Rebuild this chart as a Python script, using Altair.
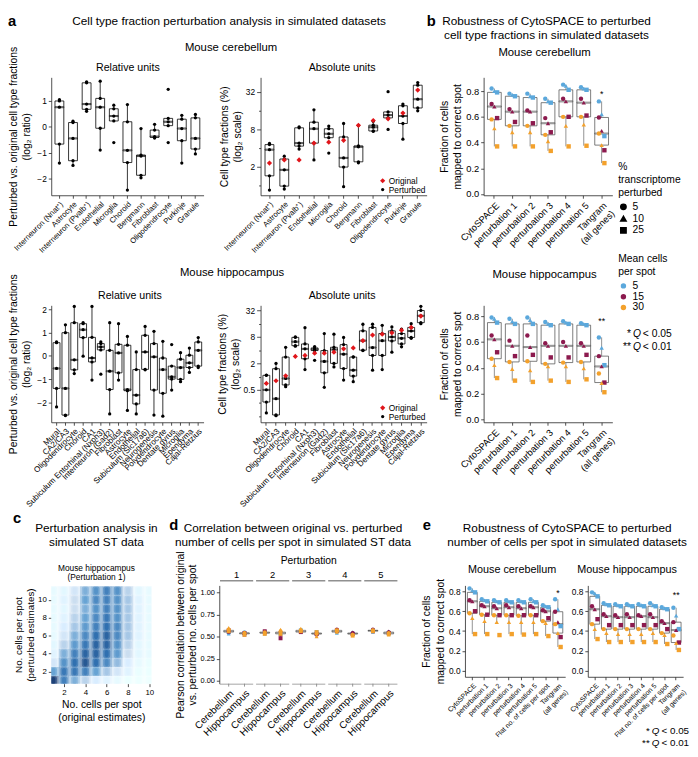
import altair as alt
import pandas as pd

FONT = "Liberation Sans"
BLUE, MAROON, ORANGE, RED = "#5BA8DC", "#8C1A4E", "#F3A12C", "#E0161B"
PCTS = ["5", "10", "25"]
CELLS = ["5", "15", "30"]

# ---------------- panel a : mouse cerebellum ----------------
cb_types = ["Interneuron (Nnat⁺)", "Astrocyte", "Interneuron (Pvalb⁺)", "Endothelial",
            "Microglia", "Choroid", "Bergmann", "Fibroblast", "Oligodendrocyte",
            "Purkinje", "Granule"]
cb_rel = [
    [-1.39, -0.66, 0.76, 1.0, 1.05], [-1.48, -1.3, -0.44, 0.17, 0.22],
    [0.6, 0.68, 0.88, 1.7, 1.74], [-0.89, -0.05, 0.76, 1.1, 1.76],
    [-0.6, 0.23, 0.42, 0.7, 0.84], [-2.43, -1.37, -0.9, 0.2, 0.86],
    [-1.96, -1.86, -1.12, -1.08, -0.06], [-0.43, -0.4, -0.37, -0.12, 0.1],
    [-0.6, 0.05, 0.2, 0.33, 1.45], [-1.39, -0.53, -0.06, 0.3, 0.45],
    [-1.04, -0.85, -0.44, 0.35, 0.48],
]
# log2 of cell type fraction (%)
cb_abs = [
    [-0.26, 0.5, 1.9, 2.17, 2.23], [-0.21, -0.05, 0.82, 1.4, 1.55],
    [1.93, 2.09, 2.25, 3.07, 3.12], [1.35, 2.25, 3.02, 3.37, 4.03],
    [1.72, 2.54, 2.75, 3.02, 3.16], [-0.08, 0.97, 1.46, 2.58, 3.3],
    [1.2, 1.25, 2.05, 2.1, 3.2], [2.88, 2.9, 3.1, 3.21, 3.42],
    [2.98, 3.6, 3.75, 3.92, 5.0], [2.46, 3.3, 3.7, 4.25, 4.34],
    [3.98, 4.13, 4.6, 5.35, 5.49],
]
cb_abs_orig = [1.18, 1.35, 1.35, 2.25, 2.3, 2.4, 3.2, 3.46, 3.55, 3.86, 5.09]

# ---------------- panel a : mouse hippocampus ----------------
hc_types = ["Mural", "CA2/CA3", "Oligodendrocyte", "Choroid", "CA1",
            "Subiculum Entorhinal (Nxph3)", "Interneuron (Gad2)", "Fibroblast",
            "Astrocyte", "Endothelial", "Subiculum (Slc17a6)", "Neurogenesis",
            "Polydendrocyte", "Dentate gyrus", "Microglia", "Ependyma", "Cajal-Retzius"]
hc_rel = [
    [-2.2, -1.4, -0.54, 0.57, 0.6], [-2.57, -2.55, -1.4, 1.0, 1.34],
    [-0.76, -0.6, -0.17, 1.43, 2.13], [-0.01, 0.79, 1.13, 1.39, 1.43],
    [-1.04, -0.26, -0.09, 0.8, 2.13], [-0.79, 0.26, 0.39, 0.53, 0.6],
    [-2.5, -1.45, -0.66, 0.24, 1.43], [-1.04, -0.73, 0.13, 0.5, 1.39],
    [-2.35, -1.5, -1.45, 0.46, 0.84], [-2.5, -2.07, -1.69, -0.59, 0.17],
    [-0.6, -0.58, 0.17, 0.89, 1.27], [-2.55, -1.47, -0.04, 0.53, 1.06],
    [-2.6, -1.61, -0.59, -0.09, 0.63], [-1.47, -1.0, -0.9, -0.44, 0.49],
    [-1.11, -1.01, -0.5, -0.14, 0.14], [-0.71, -0.5, -0.3, 0.03, 0.34],
    [-0.5, -0.44, 0.24, 0.6, 0.79],
]
hc_abs = [
    [-2.74, -1.92, -1.0, 0.1, 0.12], [-2.95, -2.9, -1.67, 0.6, 1.0],
    [-0.76, -0.63, -0.14, 1.48, 2.22], [2.3, 2.34, 2.64, 2.97, 3.0],
    [0.53, 1.35, 2.1, 2.47, 3.7], [1.23, 1.97, 2.07, 2.17, 2.27],
    [-0.81, 0.29, 1.15, 1.97, 3.26], [0.73, 1.0, 2.05, 2.22, 3.21],
    [-0.26, 0.61, 1.7, 2.42, 2.96], [-0.38, 0.04, 0.49, 1.48, 1.5],
    [1.97, 2.0, 2.72, 3.46, 3.96], [0.49, 1.6, 2.2, 3.72, 3.96],
    [0.53, 1.6, 2.72, 3.26, 3.88], [1.85, 2.7, 3.0, 3.46, 3.76],
    [2.25, 2.47, 2.9, 3.26, 3.6], [2.9, 2.96, 3.45, 3.72, 4.0],
    [4.0, 4.08, 4.6, 5.0, 5.32],
]
hc_abs_orig = [-0.51, -0.31, 0.06, 1.53, 1.6, 1.77, 1.77, 1.85, 2.1, 2.17, 2.72,
               3.14, 3.21, 3.31, 3.51, 3.72, 4.58]

# ---------------- panel b ----------------
b_cats = ["CytoSPACE", "perturbation 1", "perturbation 2", "perturbation 3",
          "perturbation 4", "perturbation 5", "Tangram\n(all genes)"]
# each row: [5 %, 10 %, 25 % transcriptome perturbed]
b_cb_blue = [[0.82, 0.80, 0.79], [0.78, 0.77, 0.76], [0.78, 0.76, 0.75], [0.74, 0.72, 0.71],
             [0.85, 0.84, 0.81], [0.83, 0.82, 0.81], [0.72, 0.62, 0.45]]
b_cb_maroon = [[0.70, 0.68, 0.59], [0.66, 0.64, 0.56], [0.65, 0.64, 0.55], [0.59, 0.55, 0.48],
               [0.74, 0.72, 0.60], [0.74, 0.71, 0.61], [0.595, 0.49, 0.34]]
b_cb_orange = [[0.58, 0.51, 0.37], [0.53, 0.48, 0.37], [0.53, 0.48, 0.37], [0.46, 0.41, 0.335],
               [0.60, 0.53, 0.37], [0.60, 0.54, 0.375], [0.47, 0.38, 0.24]]
b_hc_blue = [[0.79, 0.78, 0.75], [0.78, 0.76, 0.74], [0.79, 0.77, 0.74], [0.755, 0.74, 0.73],
             [0.76, 0.75, 0.74], [0.745, 0.74, 0.73], [0.635, 0.555, 0.42]]
b_hc_maroon = [[0.65, 0.62, 0.52], [0.61, 0.57, 0.49], [0.65, 0.56, 0.50], [0.59, 0.57, 0.48],
               [0.60, 0.57, 0.48], [0.59, 0.57, 0.50], [0.49, 0.41, 0.285]]
b_hc_orange = [[0.47, 0.42, 0.32], [0.445, 0.39, 0.30], [0.45, 0.38, 0.29], [0.43, 0.41, 0.30],
               [0.44, 0.41, 0.29], [0.445, 0.395, 0.31], [0.355, 0.28, 0.21]]

# ---------------- panel c (density of cells per spot) ----------------
c_orig = [1, 2, 3, 4, 5, 6, 7, 8, 9, 10]
c_pert = [1, 2, 3, 4, 5, 6, 7, 8, 9, 10, 11]
c_density = [
    [1.00, 0.50, 0.20, 0.10, 0.08, 0.05, 0.05, 0.05, 0.05, 0.05, 0.05],
    [0.70, 0.75, 0.60, 0.45, 0.30, 0.20, 0.15, 0.10, 0.08, 0.10, 0.08],
    [0.45, 0.75, 0.80, 0.70, 0.55, 0.45, 0.35, 0.30, 0.25, 0.25, 0.20],
    [0.30, 0.70, 0.90, 0.85, 0.75, 0.65, 0.55, 0.50, 0.45, 0.50, 0.45],
    [0.15, 0.50, 0.80, 0.85, 0.85, 0.80, 0.70, 0.65, 0.60, 0.65, 0.60],
    [0.10, 0.35, 0.65, 0.80, 0.85, 0.85, 0.80, 0.75, 0.70, 0.70, 0.70],
    [0.05, 0.20, 0.40, 0.55, 0.60, 0.65, 0.65, 0.60, 0.60, 0.60, 0.60],
    [0.02, 0.10, 0.15, 0.25, 0.30, 0.35, 0.35, 0.35, 0.35, 0.35, 0.30],
    [0.01, 0.03, 0.05, 0.08, 0.08, 0.10, 0.10, 0.10, 0.10, 0.10, 0.08],
    [0.00, 0.02, 0.03, 0.05, 0.05, 0.05, 0.05, 0.05, 0.05, 0.05, 0.05],
]

# ---------------- panel d (Pearson r) ----------------
d_perts = ["1", "2", "3", "4", "5"]
d_tissues = ["Cerebellum", "Hippocampus"]
# per perturbation: blue(5,10,25), maroon(5,10,25), orange(5,10,25)
d_cereb = [[0.54, 0.53, 0.55, 0.56, 0.55, 0.57, 0.58, 0.60, 0.56],
           [0.54, 0.53, 0.55, 0.54, 0.55, 0.56, 0.55, 0.54, 0.53],
           [0.56, 0.55, 0.57, 0.55, 0.57, 0.55, 0.57, 0.59, 0.56],
           [0.55, 0.54, 0.56, 0.58, 0.56, 0.57, 0.56, 0.55, 0.57],
           [0.56, 0.55, 0.57, 0.58, 0.57, 0.56, 0.57, 0.58, 0.56]]
d_hippo = [[0.55, 0.54, 0.53, 0.53, 0.52, 0.54, 0.54, 0.55, 0.52],
           [0.54, 0.55, 0.53, 0.55, 0.52, 0.48, 0.56, 0.58, 0.53],
           [0.54, 0.53, 0.55, 0.52, 0.54, 0.53, 0.53, 0.50, 0.55],
           [0.54, 0.55, 0.53, 0.54, 0.55, 0.53, 0.52, 0.53, 0.51],
           [0.55, 0.53, 0.54, 0.55, 0.56, 0.54, 0.54, 0.52, 0.53]]

# ---------------- panel e ----------------
e_cats = ["CytoSPACE", "perturbation 1", "perturbation 2", "perturbation 3",
          "perturbation 4", "perturbation 5", "Flat no. of cells per spot",
          "Tangram\n(all genes)"]
e_cb_blue = [[0.83, 0.81, 0.79], [0.72, 0.71, 0.70], [0.71, 0.70, 0.69], [0.71, 0.70, 0.69],
             [0.71, 0.70, 0.69], [0.72, 0.70, 0.69], [0.66, 0.65, 0.64], [0.72, 0.62, 0.45]]
e_cb_maroon = [[0.71, 0.70, 0.60], [0.66, 0.65, 0.565], [0.65, 0.63, 0.56], [0.66, 0.64, 0.56],
               [0.65, 0.63, 0.56], [0.65, 0.64, 0.56], [0.61, 0.60, 0.53], [0.595, 0.49, 0.34]]
e_cb_orange = [[0.58, 0.53, 0.37], [0.565, 0.50, 0.37], [0.56, 0.49, 0.36], [0.56, 0.49, 0.37],
               [0.555, 0.49, 0.365], [0.56, 0.49, 0.37], [0.50, 0.48, 0.35], [0.47, 0.38, 0.24]]
e_hc_blue = [[0.79, 0.78, 0.75], [0.68, 0.67, 0.66], [0.67, 0.66, 0.65], [0.67, 0.66, 0.65],
             [0.67, 0.66, 0.65], [0.68, 0.66, 0.65], [0.64, 0.63, 0.62], [0.635, 0.555, 0.42]]
e_hc_maroon = [[0.65, 0.62, 0.52], [0.57, 0.55, 0.46], [0.56, 0.54, 0.46], [0.57, 0.54, 0.46],
               [0.56, 0.55, 0.46], [0.57, 0.54, 0.46], [0.50, 0.48, 0.42], [0.49, 0.41, 0.285]]
e_hc_orange = [[0.47, 0.42, 0.32], [0.42, 0.38, 0.29], [0.42, 0.37, 0.29], [0.42, 0.37, 0.29],
               [0.42, 0.37, 0.29], [0.42, 0.38, 0.29], [0.38, 0.36, 0.27], [0.355, 0.28, 0.21]]


# ================= helpers =================
def txt(s, x, y, size=10, weight="normal", align="center", baseline="middle", style="normal"):
    return alt.Chart(pd.DataFrame({"t": [s]})).mark_text(
        font=FONT, fontSize=size, fontWeight=weight, align=align, baseline=baseline,
        fontStyle=style, color="black").encode(text="t:N", x=alt.value(x), y=alt.value(y))


def qnote(x, y, stars, val, size=10.5):
    return [txt(stars, x - 6, y, size, align="right"),
            txt("Q", x, y, size, style="italic"),
            txt("< " + val, x + 6, y, size, align="left")]


def cat_axis(size):
    return alt.Axis(labelAngle=315, labelAlign="right", labelBaseline="top", labelFontSize=size,
                    labelPadding=2, labelLimit=300, tickSize=3, title=None,
                    labelExpr="split(datum.label, '\\n')")


BOX = dict(extent=1.5, outliers=False, ticks=False,
           box={"fill": "white", "stroke": "black", "strokeWidth": 0.8},
           median={"stroke": "black", "strokeWidth": 1},
           rule={"stroke": "black", "strokeWidth": 0.8})


def rel_panel(types, vals, w, h, ydom, yvals, lab, bsize, notes):
    df = pd.DataFrame({"type": [t for t, vs in zip(types, vals) for _ in vs],
                       "v": [v for vs in vals for v in vs]})
    x = alt.X("type:N", sort=types, scale=alt.Scale(paddingInner=0, paddingOuter=0.1),
              axis=cat_axis(lab))
    y = alt.Y("v:Q", scale=alt.Scale(domain=ydom, nice=False, zero=False),
              axis=alt.Axis(values=yvals, title=["Perturbed vs. original cell type fractions",
                                                  "(log₂ ratio)"], titleFontSize=10.5,
                            titleLineHeight=14, titlePadding=5, labelFontSize=8.5))
    box = alt.Chart(df).mark_boxplot(size=bsize, **BOX).encode(x=x, y=y)
    pts = alt.Chart(df).mark_circle(size=11, color="black", opacity=1).encode(x=x, y=y)
    return alt.layer(box, pts, *notes).properties(width=w, height=h)


def abs_panel(types, vals, orig, w, h, ydom, yvals, major, lab, bsize, notes):
    dfp = pd.DataFrame({"type": [t for t, vs in zip(types, vals) for _ in vs],
                        "v": [v for vs in vals for v in vs], "kind": "Perturbed"})
    dfo = pd.DataFrame({"type": types, "v": orig, "kind": "Original"})
    dfa = pd.concat([dfp, dfo], ignore_index=True)
    x = alt.X("type:N", sort=types, scale=alt.Scale(paddingInner=0, paddingOuter=0.1),
              axis=cat_axis(lab))
    is_major = "indexof(" + str(major) + ", datum.value) >= 0"
    y = alt.Y("v:Q", scale=alt.Scale(domain=ydom, nice=False, zero=False),
              axis=alt.Axis(values=yvals,
                            labelExpr=is_major + " ? toString(pow(2, datum.value)) : ''",
                            tickSize={"condition": {"test": is_major, "value": 4}, "value": 2},
                            title=["Cell type fractions (%)", "(log₂ scale)"], titleFontSize=10.5,
                            titleLineHeight=13, titlePadding=3, labelFontSize=8.5))
    kinds = ["Original", "Perturbed"]
    leg = alt.Legend(title=None, orient="bottom-right", offset=1, padding=0, labelFontSize=8.5,
                     symbolSize=24, rowPadding=0, labelOffset=2)
    box = alt.Chart(dfp).mark_boxplot(size=bsize, **BOX).encode(x=x, y=y)
    pts = alt.Chart(dfa).mark_point(filled=True, opacity=1).encode(
        x=x, y=y,
        color=alt.Color("kind:N", scale=alt.Scale(domain=kinds, range=[RED, "black"]), legend=leg),
        shape=alt.Shape("kind:N", scale=alt.Scale(domain=kinds, range=["diamond", "circle"]), legend=leg),
        size=alt.Size("kind:N", scale=alt.Scale(domain=kinds, range=[28, 11]), legend=None))
    return alt.layer(box, pts, *notes).properties(width=w, height=h)


def frac_panel(cats, blue, maroon, orange, w, h, ydom, lab, ylab, bsize, star, star_y, notes,
               legend=False, ytitle=True):
    rows = []
    for i, cat in enumerate(cats):
        for cells, arr in zip(CELLS, (blue, maroon, orange)):
            for pct, v in zip(PCTS, arr[i]):
                rows.append({"cat": cat, "cells": cells, "pct": pct, "v": v})
    df = pd.DataFrame(rows)
    half_band = w / (len(cats) + 0.2) / 2
    x = alt.X("cat:N", sort=cats, scale=alt.Scale(paddingInner=0, paddingOuter=0.1),
              axis=cat_axis(lab))
    y = alt.Y("v:Q", scale=alt.Scale(domain=ydom, nice=False, zero=False),
              axis=alt.Axis(values=[0, 0.2, 0.4, 0.6, 0.8], format=".1f", labelFontSize=ylab,
                            title=["Fraction of cells", "mapped to correct spot"] if ytitle else None,
                            titleFontSize=10.5, titleLineHeight=14, titlePadding=3))
    box = alt.Chart(df).mark_boxplot(size=bsize, extent=1.5, outliers=False, ticks=False,
                                     box={"fill": "white", "stroke": "#444", "strokeWidth": 0.7},
                                     median={"stroke": "#444", "strokeWidth": 0.9},
                                     rule={"stroke": "#777", "strokeWidth": 0.8}).encode(x=x, y=y)
    if legend:
        cleg = alt.Legend(title=["Mean cells", "per spot"], orient="none", legendX=137, legendY=180,
                          titleFontSize=10.5, labelFontSize=10.5, symbolSize=30, rowPadding=0,
                          titlePadding=3, titleLineHeight=13.5)
        sleg = alt.Legend(title=["%", "transcriptome", "perturbed"], orient="none", legendX=137,
                          legendY=86, titleFontSize=10.5, labelFontSize=10.5, symbolSize=30,
                          rowPadding=0, titlePadding=3, titleLineHeight=13.5,
                          symbolFillColor="black", symbolStrokeColor="black")
    else:
        cleg = None
        sleg = None
    pts = alt.Chart(df).mark_point(filled=True, size=20, opacity=1).encode(
        x=x, y=y,
        xOffset=alt.XOffset("pct:N", sort=PCTS,
                            scale=alt.Scale(type="point", padding=0,
                                            range=[half_band - 2.8, half_band + 2.8])),
        color=alt.Color("cells:N", sort=CELLS, scale=alt.Scale(domain=CELLS, range=[BLUE, MAROON, ORANGE]), legend=cleg),
        shape=alt.Shape("pct:N", sort=PCTS, scale=alt.Scale(domain=PCTS, range=["circle", "triangle-up", "square"]), legend=sleg))
    st = alt.Chart(pd.DataFrame({"cat": [cats[-1]], "v": [star_y], "t": [star]})).mark_text(
        font=FONT, fontSize=9).encode(x=x, y=y, text="t:N")
    return alt.layer(box, pts, st, *notes).properties(width=w, height=h)


def spacer(w):
    return alt.Chart(pd.DataFrame({"a": [0]})).mark_point(opacity=0).encode(
        x=alt.value(0), y=alt.value(0)).properties(width=w, height=10)


# ================= panel a / b charts =================
relC = rel_panel(cb_types, cb_rel, 155, 120, [-2.63, 1.91], [-2, -1, 0, 1], 7.8, 9, [
    txt("a", -44, -64, 15, "bold", align="left", baseline="top"),
    txt("Cell type fraction perturbation analysis in simulated datasets", 181, -57, 12),
    txt("Mouse cerebellum", 183, -30, 11.5),
    txt("Relative units", 78, -9, 10.8)])
absC = abs_panel(cb_types, cb_abs, cb_abs_orig, 169, 120, [-0.54, 5.77], [0, 1, 2, 3, 4, 5],
                 [1, 3, 5], 7.8, 9, [txt("Absolute units", 83, -9, 10.8)])
bC = frac_panel(b_cats, b_cb_blue, b_cb_maroon, b_cb_orange, 131, 120, [-0.01, 0.907], 9.5, 9.5, 14,
                "*", 0.78, [
                    txt("b", -58, -64, 15, "bold", align="left", baseline="top"),
                    txt("Robustness of CytoSPACE to perturbed", 64, -57, 12),
                    txt("cell type fractions in simulated datasets", 64, -43, 12),
                    txt("Mouse cerebellum", 62, -25, 11.5)], legend=True)
relH = rel_panel(hc_types, hc_rel, 155, 119, [-2.86, 2.18], [-2, -1, 0, 1, 2], 8.2, 7, [
    txt("Mouse hippocampus", 184, -33, 11.5),
    txt("Relative units", 80, -9, 10.8)])
absH = abs_panel(hc_types, hc_abs, hc_abs_orig, 169, 119, [-3.45, 5.39],
                 [-3, -2, -1, 0, 1, 2, 3, 4, 5], [-1, 1, 3, 5], 8.2, 7, [
                     txt("Absolute units", 83, -9, 10.8)])
bH = frac_panel(b_cats, b_hc_blue, b_hc_maroon, b_hc_orange, 131, 119, [-0.023, 0.884], 9.5, 9.5, 14,
                "**", 0.76, [txt("Mouse hippocampus", 62, -31, 11.5)]
                + qnote(156, 29, "*", "0.05") + qnote(156, 42, "**", "0.01"))

row12 = alt.concat(relC, absC, bC, relH, absH, bH, columns=3, bounds="flush", align="each",
                   spacing={"row": 112, "column": 58})

# ================= panel c =================
crow = []
for i, xv in enumerate(c_orig):
    for j, yv in enumerate(c_pert):
        crow.append({"orig": xv, "pert": yv, "dens": c_density[i][j]})
cdf = pd.DataFrame(crow)
cscale = alt.Scale(domain=[0, 0.25, 0.5, 0.8, 1.0],
                   range=["#ffffff", "#c6dbef", "#5a9bd0", "#1c62a8", "#08306b"])
cx = alt.X("x1:Q", scale=alt.Scale(domain=[0.8, 10.2], nice=False, zero=False),
           axis=alt.Axis(values=[2, 4, 6, 8, 10], title=["No. cells per spot", "(original estimates)"],
                         titleFontSize=10.5, titleLineHeight=13, domain=False, labelFontSize=8))
cy = alt.Y("y1:Q", scale=alt.Scale(domain=[0.65, 11.6], nice=False, zero=False),
           axis=alt.Axis(values=[2, 4, 6, 8, 10], title=["No. cells per spot", "(perturbed estimates)"],
                         titleFontSize=10, titleLineHeight=12, titlePadding=2, domain=False,
                         labelFontSize=8))
cbase = alt.Chart(cdf)


def c_layer(hw, hh, op, rad):
    return cbase.transform_calculate(
        x1=f"datum.orig - {hw}", x2=f"datum.orig + {hw}",
        y1=f"datum.pert - {hh}", y2=f"datum.pert + {hh}"
    ).mark_rect(clip=True, opacity=op, cornerRadius=rad).encode(
        x=cx, x2="x2:Q", y=cy, y2="y2:Q", color=alt.Color("dens:Q", scale=cscale, legend=None))


cchart = alt.layer(c_layer(0.5, 0.5, 0.5, 0), c_layer(0.33, 0.48, 0.55, 2),
                   c_layer(0.18, 0.4, 0.6, 2),
                   txt("c", -39, -75, 15, "bold", align="left", baseline="top"),
                   txt("Perturbation analysis in", 46, -58, 12),
                   txt("simulated ST data", 46, -44, 12),
                   txt("Mouse hippocampus", 46, -18, 8.5),
                   txt("(Perturbation 1)", 46, -8, 8.5)).properties(width=102, height=100)

# ================= panel d =================
drows = []
for k, p in enumerate(d_perts):
    for tissue, mat in zip(d_tissues, (d_cereb, d_hippo)):
        for ci, cells in enumerate(CELLS):
            for pi, pct in enumerate(PCTS):
                drows.append({"pert": p, "tissue": tissue, "cells": cells, "pct": pct,
                              "r": mat[k][ci * 3 + pi]})
ddf = pd.DataFrame(drows)
DH = 100
dx = alt.X("pert:N", sort=d_perts, axis=None, scale=alt.Scale(paddingInner=0.08, paddingOuter=0.02))
dxo = alt.XOffset("tissue:N", sort=d_tissues, scale=alt.Scale(paddingOuter=0.05))
dys = alt.Scale(domain=[-0.033, 1.078], nice=False, zero=False)
dax = alt.Axis(values=[0, 0.25, 0.5, 0.75, 1.0], format=".2f", labelFontSize=7.5,
               title=["Pearson correlation between original", "vs. perturbed no. cells per spot"],
               titleFontSize=10.5, titleLineHeight=12, titlePadding=3)


def dy(f):
    return alt.Y(f, scale=dys, axis=dax)


dagg = alt.Chart(ddf).transform_aggregate(q1="q1(r)", q3="q3(r)", med="median(r)", lo="min(r)",
                                          hi="max(r)", groupby=["pert", "tissue"])
d_wh = dagg.mark_rule(color="#777", strokeWidth=0.7).encode(x=dx, xOffset=dxo, y=dy("lo:Q"), y2="hi:Q")
d_box = dagg.mark_bar(fill="white", stroke="#444", strokeWidth=0.6, size=10).encode(
    x=dx, xOffset=dxo, y=dy("q1:Q"), y2="q3:Q")
d_med = dagg.mark_tick(color="#333", size=10, thickness=0.8).encode(x=dx, xOffset=dxo, y=dy("med:Q"))
d_pts = alt.Chart(ddf).mark_point(filled=True, size=16, opacity=1).encode(
    x=dx, xOffset=dxo, y=dy("r:Q"),
    color=alt.Color("cells:N", scale=alt.Scale(domain=CELLS, range=[BLUE, MAROON, ORANGE]), legend=None),
    shape=alt.Shape("pct:N", scale=alt.Scale(domain=PCTS, range=["circle", "triangle-up", "square"]), legend=None))
dlab = pd.DataFrame([{"pert": p, "tissue": t} for p in d_perts for t in d_tissues])
d_labels = alt.Chart(dlab).mark_text(font=FONT, fontSize=10, angle=315, align="right",
                                     baseline="top").encode(
    x=dx, xOffset=dxo, y=alt.value(DH + 5), text="tissue:N")
d_ticks = alt.Chart(dlab).mark_rule(color="#666", strokeWidth=0.7).encode(
    x=dx, xOffset=dxo, y=alt.value(DH), y2=alt.value(DH + 3))
dstrip = pd.DataFrame({"pert": d_perts})
d_axisline = alt.Chart(dstrip).mark_rect(color="#888").encode(x=dx, y=alt.value(DH), y2=alt.value(DH + 0.8))
d_stripline = alt.Chart(dstrip).mark_rect(color="#222").encode(x=dx, y=alt.value(-5), y2=alt.value(-4.2))
d_stripnum = alt.Chart(dstrip).mark_text(font=FONT, fontSize=9.5).encode(x=dx, y=alt.value(-11), text="pert:N")
dchart = alt.layer(d_wh, d_box, d_med, d_pts, d_labels, d_ticks, d_axisline, d_stripline, d_stripnum,
                   txt("d", -51, -68, 15, "bold", align="left", baseline="top"),
                   txt("Correlation between original vs. perturbed", 75, -58, 12),
                   txt("number of cells per spot in simulated ST data", 75, -44, 12),
                   txt("Perturbation", 91, -25, 10.5)).properties(width=182, height=DH)

# ================= panel e =================
eC = frac_panel(e_cats, e_cb_blue, e_cb_maroon, e_cb_orange, 102, 93, [-0.06, 0.86], 7, 8.5, 10,
                "*", 0.78, [
                    txt("e", -43, -68, 15, "bold", align="left", baseline="top"),
                    txt("Robustness of CytoSPACE to perturbed", 104, -58, 12),
                    txt("number of cells per spot in simulated datasets", 104, -44, 12),
                    txt("Mouse cerebellum", 48, -16, 11)])
eH = frac_panel(e_cats, e_hc_blue, e_hc_maroon, e_hc_orange, 97, 93, [-0.06, 0.86], 7, 8.5, 10,
                "**", 0.76, [txt("Mouse hippocampus", 40, -16, 11)]
                + qnote(69, 148, "*", "0.05", 10) + qnote(69, 160, "**", "0.01", 10), ytitle=False)

row3 = alt.hconcat(cchart, spacer(23), dchart, spacer(22), eC, eH, spacing=23, bounds="flush")

RES = dict(color="independent", shape="independent", size="independent", xOffset="independent")
row12 = row12.resolve_scale(**RES)
row3 = row3.resolve_scale(**RES)

chart = alt.vconcat(row12, row3, spacing=4).resolve_scale(**RES).properties(
    padding=0, background="white"
).configure(font=FONT).configure_view(stroke=None).configure_axis(
    grid=False, labelFont=FONT, titleFont=FONT, labelColor="black", titleColor="black",
    domainColor="#222", tickColor="#222", titleFontWeight="normal", labelFontSize=8,
    titleFontSize=10, tickSize=3, domainWidth=0.8, tickWidth=0.8, titlePadding=3, labelPadding=2
).configure_legend(labelFont=FONT, titleFont=FONT, titleFontWeight="normal",
                   labelColor="black", titleColor="black")

chart.save("out.html", embed_options={"renderer": "svg", "actions": False})
